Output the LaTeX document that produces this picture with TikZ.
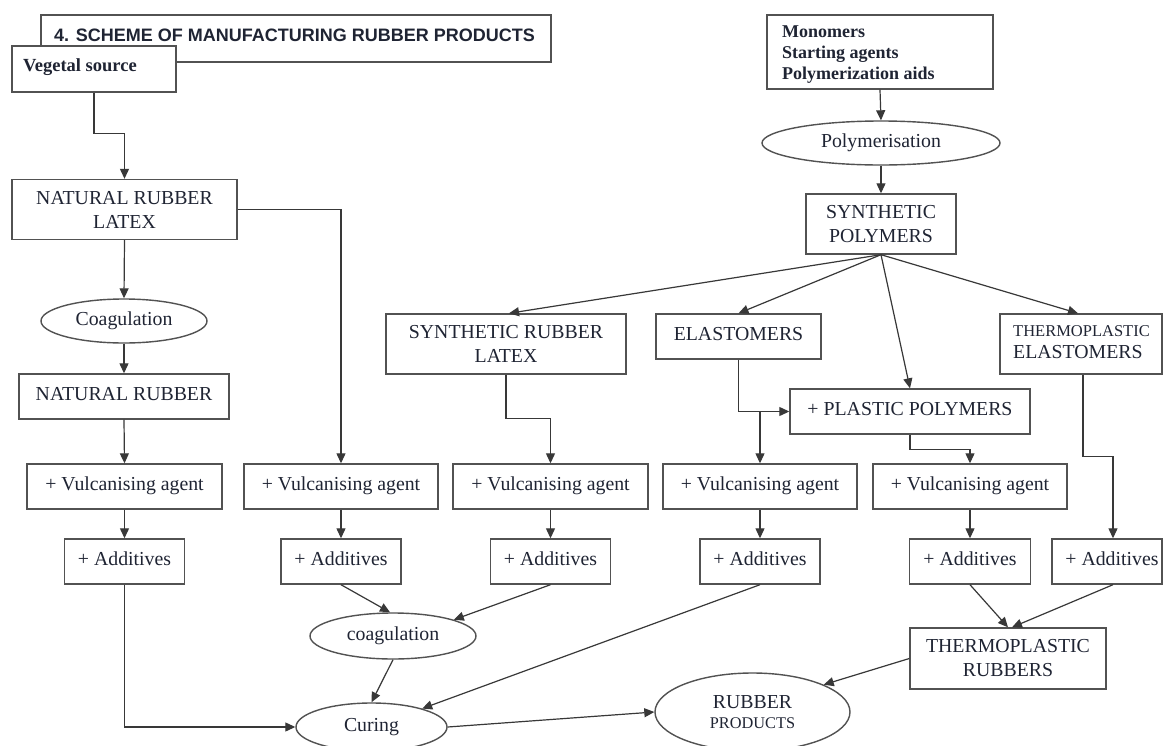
\documentclass[tikz,border=0pt]{standalone}
\usepackage{fontspec}
\setmainfont{Liberation Serif}
\setsansfont{Liberation Sans}
\usetikzlibrary{arrows.meta,shapes.geometric,calc}
\definecolor{ink}{HTML}{1F2433}
\definecolor{edgecol}{HTML}{383838}
\definecolor{framecol}{HTML}{525252}
\tikzset{
  box/.style={draw=framecol, line width=1.4pt, fill=white, inner sep=0pt, align=center,
    text=ink, font=\fontsize{19.8}{24}\selectfont},
  one/.style={text height=14pt, text depth=7pt},
  oval/.style={ellipse, draw=framecol, line width=1.4pt, fill=white, inner sep=0pt,
    align=center, text=ink, font=\fontsize{19.8}{24}\selectfont},
  arr/.style={draw=edgecol, line width=1.2pt, -{Triangle[length=10pt,width=9pt]}},
  plaintext/.style={inner sep=0pt, text=ink},
}
\begin{document}
\begin{tikzpicture}[x=1pt,y=-1pt]
\useasboundingbox[fill=white] (0,0) rectangle (1163,745);

% ---- title and sources
\node[box, minimum width=510pt, minimum height=47pt] (title) at (296,38.5) {};
\node[plaintext, font=\sffamily\bfseries\fontsize{18}{21}\selectfont] (titletext) at (294.5,35.5) {4. SCHEME OF MANUFACTURING RUBBER PRODUCTS};
\node[box, minimum width=164pt, minimum height=46pt] (veg) at (94,69) {};
\node[plaintext, anchor=north west, font=\bfseries\fontsize{18.5}{21}\selectfont] (vegtext) at (23,58) {Vegetal source};

\node[box, minimum width=226pt, minimum height=74pt] (mono) at (880,52) {};
\node[plaintext, anchor=north west, align=left, font=\bfseries\fontsize{18}{21}\selectfont] (monotext) at (782,26) {Monomers\\Starting agents\\Polymerization aids};

% ---- natural branch
\node[box, minimum width=225pt, minimum height=60pt] (nrl) at (124.5,209.5) {NATURAL RUBBER\\LATEX};
\node[oval, minimum width=166pt, minimum height=44pt] (coag1) at (124,321) {Coagulation};
\node[box, one, minimum width=210pt, minimum height=45pt] (nr) at (124,396.5) {NATURAL RUBBER};

% ---- synthetic branch
\node[oval, minimum width=238pt, minimum height=44pt] (poly) at (881,143) {Polymerisation};
\node[box, minimum width=150pt, minimum height=60pt] (sp) at (881,224) {SYNTHETIC\\POLYMERS};
\node[box, minimum width=240pt, minimum height=60pt] (srl) at (506,344) {SYNTHETIC RUBBER\\LATEX};
\node[box, one, minimum width=165pt, minimum height=45pt] (elas) at (738.5,336.5) {ELASTOMERS};
\node[box, minimum width=162pt, minimum height=60pt] (te) at (1081,344) {};
\node[plaintext, anchor=north west, align=left, font=\fontsize{19.8}{22}\selectfont] (tetext) at (1013,325.6) {{\fontsize{16.5}{22}\selectfont THERMOPLASTIC}\\ELASTOMERS};
\node[box, one, minimum width=240pt, minimum height=45pt] (pp) at (910,411.5) {+ PLASTIC POLYMERS};

% ---- vulcanising agents
\node[box, one, minimum width=195pt, minimum height=45pt] (vulc1) at (124.5,486.5) {+ Vulcanising agent};
\node[box, one, minimum width=194pt, minimum height=45pt] (vulc2) at (341,486.5) {+ Vulcanising agent};
\node[box, one, minimum width=195pt, minimum height=45pt] (vulc3) at (550.5,486.5) {+ Vulcanising agent};
\node[box, one, minimum width=194pt, minimum height=45pt] (vulc4) at (760,486.5) {+ Vulcanising agent};
\node[box, one, minimum width=194pt, minimum height=45pt] (vulc5) at (970,486.5) {+ Vulcanising agent};

% ---- additives
\node[box, one, minimum width=120pt, minimum height=45pt] (add1) at (124.5,561.5) {+ Additives};
\node[box, one, minimum width=120pt, minimum height=45pt] (add2) at (341,561.5) {+ Additives};
\node[box, one, minimum width=120pt, minimum height=45pt] (add3) at (550.5,561.5) {+ Additives};
\node[box, one, minimum width=120pt, minimum height=45pt] (add4) at (760,561.5) {+ Additives};
\node[box, one, minimum width=121pt, minimum height=45pt] (add5) at (970,561.5) {+ Additives};
\node[box, one, minimum width=110pt, minimum height=45pt] (add6) at (1107,561.5) {\hspace*{10pt}+ Additives};

% ---- bottom
\node[oval, minimum width=166pt, minimum height=46pt] (coag2) at (393,636) {coagulation};
\node[oval, minimum width=151pt, minimum height=48pt] (curing) at (371.5,727) {Curing};
\node[oval, minimum width=195pt, minimum height=78pt, font=\fontsize{19.8}{20}\selectfont] (rp) at (752.5,712) {RUBBER\\{\fontsize{16.3}{20}\selectfont PRODUCTS}};
\node[box, minimum width=196pt, minimum height=61pt] (tpr) at (1008,658.5) {THERMOPLASTIC\\RUBBERS};

% ---- connectors
\draw[arr] (veg.south) -- ++(0,41) -| (nrl.north);
\draw[arr] (nrl.south) -- (coag1.north);
\draw[arr] (coag1.south) -- (nr.north);
\draw[arr] (nr.south) -- (vulc1.north);
\draw[arr] (vulc1.south) -- (add1.north);
\draw[arr] (nrl.east) -| (vulc2.north);
\draw[arr] (vulc2.south) -- (add2.north);

\draw[arr] (mono.south) -- (poly.north);
\draw[arr] (poly.south) -- (sp.north);
\draw[arr] (sp.south) -- ($(srl.north)+(3,0)$);
\draw[arr] (sp.south) -- (elas.north);
\draw[arr] (sp.south) -- (pp.north);
\draw[arr] (sp.south) -- ($(te.north)+(-3,0)$);

\draw[arr] (srl.south) -- ++(0,44) -| (vulc3.north);
\draw[arr] (vulc3.south) -- (add3.north);
\draw[arr] (elas.south) |- (pp.west);
\coordinate (split) at (vulc4.north |- pp.west);
\draw[arr] (split) -- (vulc4.north);
\draw[arr] (vulc4.south) -- (add4.north);
\draw[arr] (pp.south) -- ++(0,15) -| (vulc5.north);
\draw[arr] (vulc5.south) -- (add5.north);
\draw[arr] ($(te.south)+(2,0)$) -- ++(0,82) -| ($(add6.north)+(6,0)$);

\draw[arr] (add1.south) |- (curing.west);
\draw[arr] (add2.south) -- ($(coag2.north)+(-3,0)$);
\draw[arr] (add3.south) -- (coag2.15);
\draw[arr] (coag2.south) -- (curing.north);
\draw[arr] (add4.south) -- (curing.20);
\draw[arr] (curing.east) -- (rp.west);
\draw[arr] (tpr.west) -- (rp.21);
\draw[arr] (add5.south) -- (tpr.north);
\draw[arr] ($(add6.south)+(6,0)$) -- ($(tpr.north)+(4,0)$);
\end{tikzpicture}
\end{document}
